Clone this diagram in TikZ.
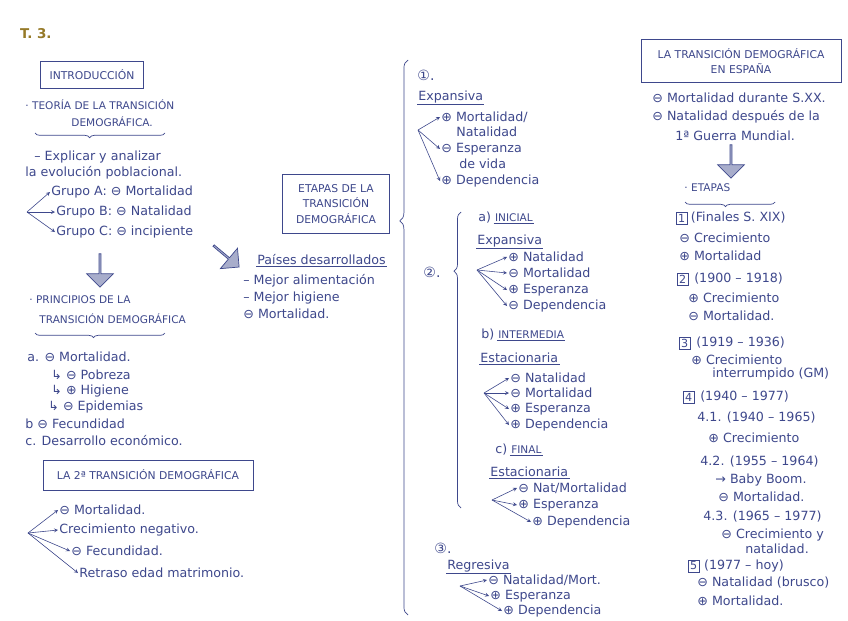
\documentclass[tikz,border=0pt]{standalone}
\usepackage{fontspec}
\setmainfont{DejaVu Sans}
\usepackage{xcolor}
\usepackage{tikz}
\usetikzlibrary{shapes,arrows,positioning,decorations.pathreplacing}
\definecolor{ink}{RGB}{62,72,140}
\definecolor{gold}{RGB}{150,122,40}

\begin{document}
\begin{tikzpicture}[
    x=0.03cm, y=-0.03cm,
    every node/.style={text=ink, font=\fontsize{10.8}{12}\selectfont},
    txt/.style={anchor=west, inner sep=1pt},
    caps/.style={anchor=west, inner sep=1pt, font=\fontsize{9}{10}\selectfont},
    titlebox/.style={rectangle, draw=ink, line width=0.6pt, align=center, font=\fontsize{9.2}{13.5}\selectfont},
    numbox/.style={rectangle, draw=ink, line width=0.5pt, inner sep=1.5pt, anchor=west, font=\fontsize{9.5}{10}\selectfont},
    fan/.style={->, >=stealth, draw=ink, line width=0.5pt},
    fatarrow/.style={single arrow, draw=ink, line width=0.6pt, fill=ink!45, minimum height=1cm, minimum width=0.8cm, single arrow head extend=0.14cm, inner sep=0pt, rotate=#1},
    bigbrace/.style={draw=ink, line width=0.6pt, decorate, decoration={brace, amplitude=#1}},
    uline/.style={draw=ink, line width=0.5pt}
]
    \fill[white] (0,0) rectangle (848,620);
    \useasboundingbox (0,0) rectangle (848,620);

    % Title
    \node[text=gold, anchor=west, font=\bfseries\fontsize{11.5}{12}\selectfont] (tema) at (16,34) {T. 3.};

    % Introduction
    \node[titlebox, minimum width=3.1cm, minimum height=0.8cm] (intro) at (92,75) {INTRODUCCIÓN};
    \node[caps] (teoria) at (24,105) {· TEORÍA DE LA TRANSICIÓN};
    \node[caps] (teoria2) at (70,122) {DEMOGRÁFICA.};
    \draw[bigbrace=4pt, decoration={mirror, aspect=0.42}] (35,133) -- (165,133);
    \node[txt] (explicar) at (33,157) {– Explicar y analizar};
    \node[txt] (evolucion) at (24,173) {la evolución poblacional.};
    \coordinate (fanA) at (27,212);
    \node[txt] (grupoA) at (50,192) {Grupo A: ⊖ Mortalidad};
    \node[txt] (grupoB) at (55,212) {Grupo B: ⊖ Natalidad};
    \node[txt] (grupoC) at (55,232) {Grupo C: ⊖ incipiente};
    \foreach \n in {grupoA,grupoB,grupoC}
        \draw[fan] (fanA) -- (\n.west);

    % Principles
    \node[fatarrow=-90] (flechaA) at (100,270) {};
    \node[caps] (princ) at (28,300) {· PRINCIPIOS DE LA};
    \node[caps] (princ2) at (38,319) {TRANSICIÓN DEMOGRÁFICA};
    \draw[bigbrace=4pt, decoration={mirror, aspect=0.45}] (35,333) -- (165,333);
    \node[txt] (pa) at (26,357) {a. ⊖ Mortalidad.};
    \node[txt] (pobreza) at (50,375) {↳ ⊖ Pobreza};
    \node[txt] (higiene) at (50,391) {↳ ⊕ Higiene};
    \node[txt] (epidem) at (47,407) {↳ ⊖ Epidemias};
    \node[txt] (pb) at (24,424) {b ⊖ Fecundidad};
    \node[txt] (pc) at (24,441) {c. Desarrollo económico.};

    % Second transition
    \node[titlebox, minimum width=6.3cm, minimum height=0.9cm] (segunda) at (148,475) {LA 2ª TRANSICIÓN DEMOGRÁFICA};
    \coordinate (fanB) at (28,533);
    \node[txt] (s1) at (58,510) {⊖ Mortalidad.};
    \node[txt] (s2) at (58,530) {Crecimiento negativo.};
    \node[txt] (s3) at (70,551) {⊖ Fecundidad.};
    \node[txt] (s4) at (78,573) {Retraso edad matrimonio.};
    \foreach \n in {s1,s2,s3,s4}
        \draw[fan] (fanB) -- (\n.west);

    % Developed countries
    \node[fatarrow=-40] (flechaB) at (226,256) {};
    \node[txt] (paises) at (256,260) {Países desarrollados};
    \draw[uline] (paises.south west) -- (paises.south east);
    \node[txt] (d1) at (242,281) {– Mejor alimentación};
    \node[txt] (d2) at (242,298) {– Mejor higiene};
    \node[txt] (d3) at (242,314) {⊖ Mortalidad.};

    % Stages
    \node[titlebox, minimum width=3.2cm, minimum height=1.75cm] (etapas) at (336,204) {ETAPAS DE LA\\TRANSICIÓN\\DEMOGRÁFICA};
    \draw[bigbrace=7pt, decoration={aspect=0.71}] (408,615) -- (408,60);

    % Stage 1
    \node[txt, font=\fontsize{12}{12}\selectfont] (uno) at (416,75) {①.};
    \node[txt] (exp1) at (417,97) {Expansiva};
    \draw[uline] (exp1.south west) -- (exp1.south east);
    \coordinate (fan1) at (418,130);
    \node[txt] (e1a) at (440,117) {⊕ Mortalidad/};
    \node[txt] (e1a2) at (455,132) {Natalidad};
    \node[txt] (e1b) at (440,149) {⊖ Esperanza};
    \node[txt] (e1b2) at (458,164) {de vida};
    \node[txt] (e1c) at (440,181) {⊕ Dependencia};
    \foreach \n in {e1a,e1b,e1c}
        \draw[fan] (fan1) -- (\n.west);

    % Stage 2
    \node[txt, font=\fontsize{12}{12}\selectfont] (dos) at (422,272) {②.};
    \draw[bigbrace=6pt, decoration={aspect=0.8}] (461,508) -- (461,212);
    \node[txt] (aIni) at (477,218) {a)};
    \node[txt, right=1pt of aIni, font=\fontsize{9}{10}\selectfont] (inicial) {INICIAL};
    \draw[uline] (inicial.south west) -- (inicial.south east);
    \node[txt] (exp2) at (476,241) {Expansiva};
    \draw[uline] (exp2.south west) -- (exp2.south east);
    \coordinate (fan2a) at (477,270);
    \node[txt] (i1) at (507,257) {⊕ Natalidad};
    \node[txt] (i2) at (507,273) {⊖ Mortalidad};
    \node[txt] (i3) at (507,290) {⊕ Esperanza};
    \node[txt] (i4) at (507,306) {⊖ Dependencia};
    \foreach \n in {i1,i2,i3,i4}
        \draw[fan] (fan2a) -- (\n.west);

    \node[txt] (bInt) at (480,335) {b)};
    \node[txt, right=1pt of bInt, font=\fontsize{9}{10}\selectfont] (intermedia) {INTERMEDIA};
    \draw[uline] (intermedia.south west) -- (intermedia.south east);
    \node[txt] (est1) at (479,358) {Estacionaria};
    \draw[uline] (est1.south west) -- (est1.south east);
    \coordinate (fan2b) at (484,393);
    \node[txt] (m1) at (509,378) {⊖ Natalidad};
    \node[txt] (m2) at (509,393) {⊖ Mortalidad};
    \node[txt] (m3) at (509,409) {⊕ Esperanza};
    \node[txt] (m4) at (509,425) {⊕ Dependencia};
    \foreach \n in {m1,m2,m3,m4}
        \draw[fan] (fan2b) -- (\n.west);

    \node[txt] (cFin) at (494,450) {c)};
    \node[txt, right=1pt of cFin, font=\fontsize{9}{10}\selectfont] (final) {FINAL};
    \draw[uline] (final.south west) -- (final.south east);
    \node[txt] (est2) at (489,472) {Estacionaria};
    \draw[uline] (est2.south west) -- (est2.south east);
    \coordinate (fan2c) at (492,500);
    \node[txt] (f1) at (517,488) {⊖ Nat/Mortalidad};
    \node[txt] (f2) at (517,505) {⊕ Esperanza};
    \node[txt] (f3) at (531,522) {⊕ Dependencia};
    \foreach \n in {f1,f2,f3}
        \draw[fan] (fan2c) -- (\n.west);

    % Stage 3
    \node[txt, font=\fontsize{12}{12}\selectfont] (tres) at (433,548) {③.};
    \node[txt] (regr) at (446,566) {Regresiva};
    \draw[uline] (regr.south west) -- (regr.south east);
    \coordinate (fan3) at (460,586);
    \node[txt] (r1) at (487,580) {⊖ Natalidad/Mort.};
    \node[txt] (r2) at (489,596) {⊕ Esperanza};
    \node[txt] (r3) at (502,611) {⊕ Dependencia};
    \foreach \n in {r1,r2,r3}
        \draw[fan] (fan3) -- (\n.west);

    % Spain
    \node[titlebox, minimum width=6cm, minimum height=1.3cm] (espana) at (741,61) {LA TRANSICIÓN DEMOGRÁFICA\\EN ESPAÑA};
    \node[txt] (es1) at (651,98) {⊖ Mortalidad durante S.XX.};
    \node[txt] (es2) at (651,117) {⊖ Natalidad después de la};
    \node[txt] (es3) at (674,136) {1ª Guerra Mundial.};
    \node[fatarrow=-90] (flechaC) at (731,161) {};
    \node[caps] (etapasE) at (683,188) {· ETAPAS};
    \draw[bigbrace=4pt, decoration={mirror, aspect=0.45}] (685,202) -- (775,202);

    \node[numbox] (n1) at (676,218) {1};
    \node[txt, right=2pt of n1] (n1t) {(Finales S. XIX)};
    \node[txt] (n1a) at (678,238) {⊖ Crecimiento};
    \node[txt] (n1b) at (678,256) {⊕ Mortalidad};

    \node[numbox] (n2) at (677,279) {2};
    \node[txt, right=4pt of n2] (n2t) {(1900 – 1918)};
    \node[txt] (n2a) at (687,298) {⊕ Crecimiento};
    \node[txt] (n2b) at (687,316) {⊖ Mortalidad.};

    \node[numbox] (n3) at (679,343) {3};
    \node[txt, right=4pt of n3] (n3t) {(1919 – 1936)};
    \node[txt] (n3a) at (690,360) {⊕ Crecimiento};
    \node[txt] (n3b) at (711,374) {interrumpido (GM)};

    \node[numbox] (n4) at (683,397) {4};
    \node[txt, right=4pt of n4] (n4t) {(1940 – 1977)};
    \node[txt] (n41) at (696,418) {4.1. (1940 – 1965)};
    \node[txt] (n41a) at (707,438) {⊕ Crecimiento};
    \node[txt] (n42) at (699,462) {4.2. (1955 – 1964)};
    \node[txt] (n42a) at (714,480) {→ Baby Boom.};
    \node[txt] (n42b) at (717,497) {⊖ Mortalidad.};
    \node[txt] (n43) at (702,517) {4.3. (1965 – 1977)};
    \node[txt] (n43a) at (720,535) {⊖ Crecimiento y};
    \node[txt] (n43b) at (744,549) {natalidad.};

    \node[numbox] (n5) at (688,566) {5};
    \node[txt, right=3pt of n5] (n5t) {(1977 – hoy)};
    \node[txt] (n5a) at (696,583) {⊖ Natalidad (brusco)};
    \node[txt] (n5b) at (696,601) {⊕ Mortalidad.};
\end{tikzpicture}
\end{document}
